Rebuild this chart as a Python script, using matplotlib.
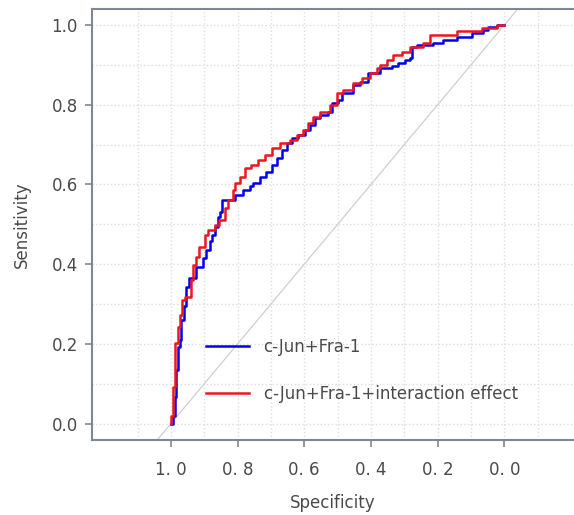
import matplotlib.pyplot as plt
import numpy as np

# ROC curve vertices (specificity, sensitivity)
spec_base = [1.0, 0.994, 0.989, 0.984, 0.979, 0.974, 0.969, 0.961, 0.954, 0.947,
             0.924, 0.904, 0.894, 0.884, 0.876, 0.869, 0.859, 0.854, 0.847, 0.809,
             0.784, 0.764, 0.754, 0.734, 0.714, 0.698, 0.683, 0.668, 0.653, 0.638,
             0.619, 0.598, 0.583, 0.568, 0.553, 0.529, 0.518, 0.498, 0.488, 0.453,
             0.433, 0.408, 0.374, 0.338, 0.318, 0.298, 0.283, 0.278, 0.263, 0.213,
             0.183, 0.143, 0.098, 0.063, 0.048, 0.023, 0.0]
sens_base = [0.0, 0.018, 0.068, 0.135, 0.193, 0.210, 0.260, 0.294, 0.344, 0.365,
             0.394, 0.415, 0.436, 0.457, 0.474, 0.494, 0.519, 0.532, 0.561, 0.574,
             0.586, 0.596, 0.603, 0.620, 0.632, 0.649, 0.666, 0.687, 0.704, 0.716,
             0.724, 0.737, 0.750, 0.766, 0.775, 0.783, 0.804, 0.812, 0.829, 0.850,
             0.858, 0.879, 0.892, 0.896, 0.904, 0.912, 0.917, 0.946, 0.950, 0.954,
             0.962, 0.971, 0.979, 0.988, 0.996, 1.0, 1.0]

spec_inter = [1.0, 1.0, 0.994, 0.988, 0.979, 0.972, 0.966, 0.959, 0.939, 0.934,
              0.926, 0.916, 0.899, 0.889, 0.869, 0.856, 0.839, 0.829, 0.814, 0.809,
              0.794, 0.779, 0.759, 0.739, 0.719, 0.698, 0.674, 0.644, 0.623, 0.604,
              0.589, 0.574, 0.553, 0.523, 0.503, 0.483, 0.453, 0.428, 0.403, 0.383,
              0.374, 0.353, 0.333, 0.308, 0.283, 0.243, 0.223, 0.143, 0.068, 0.023, 0.0]
sens_inter = [0.0, 0.018, 0.092, 0.202, 0.243, 0.273, 0.310, 0.319, 0.361, 0.398,
              0.419, 0.444, 0.474, 0.486, 0.499, 0.511, 0.541, 0.561, 0.586, 0.603,
              0.620, 0.641, 0.649, 0.662, 0.674, 0.691, 0.704, 0.712, 0.724, 0.737,
              0.754, 0.770, 0.783, 0.800, 0.829, 0.837, 0.854, 0.867, 0.879, 0.892,
              0.900, 0.913, 0.925, 0.933, 0.944, 0.954, 0.975, 0.984, 0.992, 1.0, 1.0]

labels = ['c-Jun+Fra-1', 'c-Jun+Fra-1+interaction effect']
xticks = [1.0, 0.8, 0.6, 0.4, 0.2, 0.0]
xtick_labels = ['1. 0', '0. 8', '0. 6', '0. 4', '0. 2', '0. 0']
yticks = [0.0, 0.2, 0.4, 0.6, 0.8, 1.0]

plt.rcParams['font.family'] = ['DejaVu Sans']
spine_col = '#7f8794'
text_col = '#4a4a4a'

fig = plt.figure(figsize=(5.74, 5.15), dpi=100)
ax = fig.add_axes([0.160, 0.1456, 0.840, 0.836])

ax.set_xlim(1.237, -0.209)
ax.set_ylim(-0.041, 1.039)

# reference diagonal
ax.plot([1.3, -0.3], [-0.3, 1.3], color='#cfcfcf', lw=0.9, zorder=1)

ax.plot(spec_base, sens_base, color='#0000EE', lw=1.8, drawstyle='steps-post',
        label=labels[0], zorder=3)
ax.plot(spec_inter, sens_inter, color='#EE1520', lw=1.8, drawstyle='steps-post',
        label=labels[1], zorder=4)

ax.set_xticks(xticks)
ax.set_xticklabels(xtick_labels)
ax.set_yticks(yticks)
ax.set_yticklabels([f'{v:.1f}' for v in yticks])
ax.set_xticks(np.arange(-0.1, 1.25, 0.2), minor=True)
ax.set_yticks(np.arange(0.1, 1.0, 0.2), minor=True)

ax.grid(True, which='both', color='#dedede', linestyle=':', lw=1.0)
ax.set_axisbelow(True)

for s in ['left', 'bottom', 'top']:
    ax.spines[s].set_color(spine_col)
    ax.spines[s].set_linewidth(1.5)
ax.spines['right'].set_visible(False)

ax.tick_params(axis='both', which='major', colors=spine_col, length=5, width=1.2,
               labelsize=12, labelcolor=text_col)
ax.tick_params(axis='x', pad=10)
ax.tick_params(axis='y', pad=5)
ax.tick_params(axis='both', which='minor', length=0)

ax.set_xlabel('Specificity', fontsize=12, color=text_col, labelpad=11)
ax.set_ylabel('Sensitivity', fontsize=12, color=text_col, labelpad=15)

ax.legend(loc='center left', bbox_to_anchor=(0.237, 0.162), frameon=False,
          fontsize=12, handlelength=2.6, handletextpad=0.85, labelspacing=1.75,
          borderpad=0, borderaxespad=0, labelcolor=text_col)

fig.savefig('out.png', dpi=100)
